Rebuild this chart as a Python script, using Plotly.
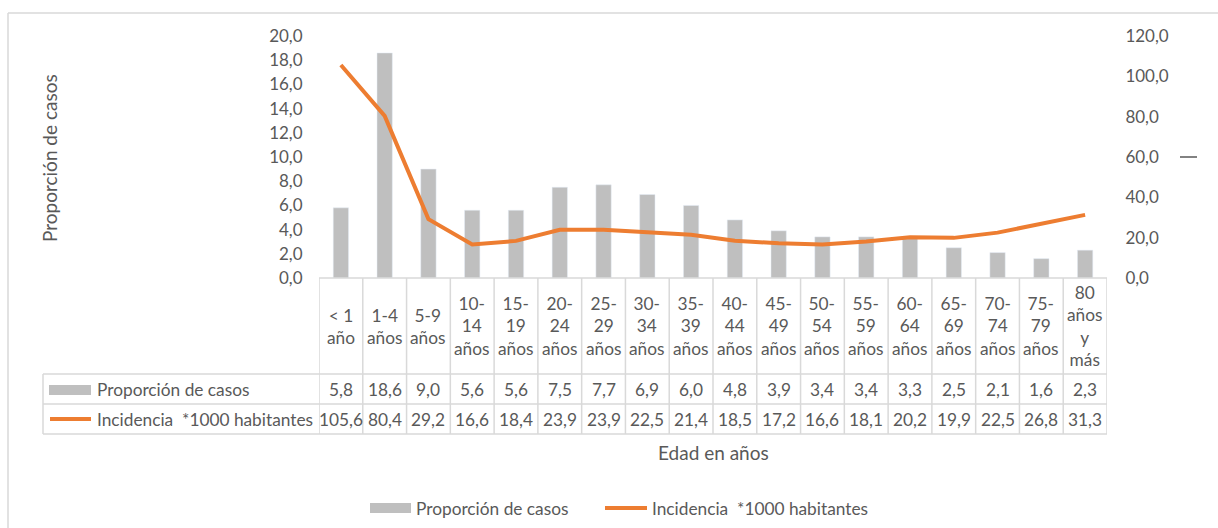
import plotly.graph_objects as go

# ---- data ----
categories = ["< 1 año", "1-4 años", "5-9 años", "10-14 años", "15-19 años", "20-24 años",
              "25-29 años", "30-34 años", "35-39 años", "40-44 años", "45-49 años", "50-54 años",
              "55-59 años", "60-64 años", "65-69 años", "70-74 años", "75-79 años", "80 años y más"]
header_labels = ["&lt; 1<br>año", "1-4<br>años", "5-9<br>años", "10-<br>14<br>años", "15-<br>19<br>años",
                 "20-<br>24<br>años", "25-<br>29<br>años", "30-<br>34<br>años", "35-<br>39<br>años",
                 "40-<br>44<br>años", "45-<br>49<br>años", "50-<br>54<br>años", "55-<br>59<br>años",
                 "60-<br>64<br>años", "65-<br>69<br>años", "70-<br>74<br>años", "75-<br>79<br>años",
                 "80<br>años<br>y<br>más"]
proporcion = [5.8, 18.6, 9.0, 5.6, 5.6, 7.5, 7.7, 6.9, 6.0, 4.8, 3.9, 3.4, 3.4, 3.3, 2.5, 2.1, 1.6, 2.3]
incidencia = [105.6, 80.4, 29.2, 16.6, 18.4, 23.9, 23.9, 22.5, 21.4, 18.5, 17.2, 16.6, 18.1, 20.2, 19.9, 22.5, 26.8, 31.3]
name_bar = "Proporción de casos"
name_line = "Incidencia\u00a0 *1000 habitantes"

# ---- layout constants (pixels) ----
W, H = 1218, 528
PL, PR, PT, PB = 319, 1107, 36, 278
ROW1, ROW2, ROW3 = 374, 404, 434
TBL_L = 43
GRAY = "#BFBFBF"
ORANGE = "#ED7D31"
TXT = "#595959"
GRID = "#D9D9D9"
FONT = "Lato"
FS_TBL = 17.3
FS_TICK = 17
FS_TITLE = 19

def X(px):
    return px / W

def Y(py):
    return 1 - py / H

fig = go.Figure()
fig.add_trace(go.Bar(x=categories, y=proporcion, name=name_bar, marker_color=GRAY,
                     width=0.35, yaxis="y", showlegend=False))
fig.add_trace(go.Scatter(x=categories, y=incidencia, name=name_line, mode="lines",
                         line=dict(color=ORANGE, width=4), yaxis="y2", showlegend=False))

shapes = []
ann = []
# outer frame
shapes.append(dict(type="line", xref="paper", yref="paper", x0=X(8), x1=1.0, y0=Y(13), y1=Y(13),
                   line=dict(color=GRID, width=1.5)))
shapes.append(dict(type="line", xref="paper", yref="paper", x0=X(8), x1=X(8), y0=Y(13), y1=0,
                   line=dict(color=GRID, width=1.5)))
# table horizontal lines
shapes.append(dict(type="line", xref="paper", yref="paper", x0=X(PL), x1=X(PR), y0=Y(PB), y1=Y(PB),
                   line=dict(color=GRID, width=1.5)))
for r in (ROW1, ROW2, ROW3):
    shapes.append(dict(type="line", xref="paper", yref="paper", x0=X(TBL_L), x1=X(PR), y0=Y(r), y1=Y(r),
                       line=dict(color=GRID, width=1.5)))
shapes.append(dict(type="line", xref="paper", yref="paper", x0=X(TBL_L), x1=X(TBL_L), y0=Y(ROW1), y1=Y(ROW3),
                   line=dict(color=GRID, width=1.5)))
# table vertical lines at category boundaries
for i in range(len(categories) + 1):
    shapes.append(dict(type="line", xref="x", yref="paper", x0=i - 0.5, x1=i - 0.5, y0=Y(PB), y1=Y(ROW3),
                       line=dict(color=GRID, width=1.5)))

# header and value cells
for i in range(len(categories)):
    ann.append(dict(xref="x", yref="paper", x=i, y=Y((PB + ROW1) / 2), text=header_labels[i],
                    showarrow=False, xanchor="center", yanchor="middle",
                    font=dict(family=FONT, size=FS_TBL, color=TXT)))
    ann.append(dict(xref="x", yref="paper", x=i, y=Y((ROW1 + ROW2) / 2),
                    text=f"{proporcion[i]:.1f}".replace(".", ","),
                    showarrow=False, xanchor="center", yanchor="middle",
                    font=dict(family=FONT, size=FS_TBL, color=TXT)))
    ann.append(dict(xref="x", yref="paper", x=i, y=Y((ROW2 + ROW3) / 2),
                    text=f"{incidencia[i]:.1f}".replace(".", ","),
                    showarrow=False, xanchor="center", yanchor="middle",
                    font=dict(family=FONT, size=FS_TBL, color=TXT)))

# row labels with keys
shapes.append(dict(type="rect", xref="paper", yref="paper", x0=X(49), x1=X(91), y0=Y(395), y1=Y(385),
                   fillcolor=GRAY, line=dict(width=0)))
shapes.append(dict(type="line", xref="paper", yref="paper", x0=X(50), x1=X(91), y0=Y(419), y1=Y(419),
                   line=dict(color=ORANGE, width=4)))
ann.append(dict(xref="paper", yref="paper", x=X(95), y=Y((ROW1 + ROW2) / 2), text=name_bar,
                showarrow=False, xanchor="left", yanchor="middle", font=dict(family=FONT, size=FS_TBL, color=TXT)))
ann.append(dict(xref="paper", yref="paper", x=X(95), y=Y((ROW2 + ROW3) / 2), text=name_line,
                showarrow=False, xanchor="left", yanchor="middle", font=dict(family=FONT, size=FS_TBL, color=TXT)))

# axis titles
ann.append(dict(xref="paper", yref="paper", x=X(49), y=Y(158), text="Proporción de casos", textangle=-90,
                showarrow=False, xanchor="center", yanchor="middle", font=dict(family=FONT, size=FS_TITLE, color=TXT)))
ann.append(dict(xref="paper", yref="paper", x=X(713), y=Y(452), text="Edad en años",
                showarrow=False, xanchor="center", yanchor="middle", font=dict(family=FONT, size=FS_TITLE, color=TXT)))
# stray dash near right axis
shapes.append(dict(type="line", xref="paper", yref="paper", x0=X(1180), x1=X(1197), y0=Y(157), y1=Y(157),
                   line=dict(color=TXT, width=1.5)))

# bottom legend
shapes.append(dict(type="rect", xref="paper", yref="paper", x0=X(370), x1=X(411), y0=Y(513), y1=Y(503),
                   fillcolor=GRAY, line=dict(width=0)))
shapes.append(dict(type="line", xref="paper", yref="paper", x0=X(605), x1=X(647), y0=Y(508), y1=Y(508),
                   line=dict(color=ORANGE, width=4)))
ann.append(dict(xref="paper", yref="paper", x=X(414), y=Y(508), text=name_bar,
                showarrow=False, xanchor="left", yanchor="middle", font=dict(family=FONT, size=FS_TBL, color=TXT)))
ann.append(dict(xref="paper", yref="paper", x=X(650), y=Y(508), text=name_line,
                showarrow=False, xanchor="left", yanchor="middle", font=dict(family=FONT, size=FS_TBL, color=TXT)))

fig.update_layout(
    width=W, height=H,
    margin=dict(l=0, r=0, t=0, b=0, pad=0, autoexpand=False),
    paper_bgcolor="white", plot_bgcolor="white",
    separators=",.",
    font=dict(family=FONT, size=FS_TICK, color=TXT),
    bargap=0.65,
    xaxis=dict(domain=[X(PL), X(PR)], type="category", showticklabels=False, showgrid=False,
               zeroline=False, showline=False, ticks="", range=[-0.5, len(categories) - 0.5],
               automargin=False),
    yaxis=dict(domain=[Y(PB), Y(PT)], range=[0, 20], dtick=2, tickformat=".1f", showgrid=False,
               zeroline=False, showline=False, ticks="outside", ticklen=12, tickcolor="rgba(0,0,0,0)",
               automargin=False, tickfont=dict(family=FONT, size=FS_TICK, color=TXT)),
    yaxis2=dict(overlaying="y", side="right", range=[0, 120], dtick=20, tickformat=".1f", showgrid=False,
                zeroline=False, showline=False, ticks="outside", ticklen=14, tickcolor="rgba(0,0,0,0)",
                automargin=False, tickfont=dict(family=FONT, size=FS_TICK, color=TXT)),
    shapes=shapes,
    annotations=ann,
    showlegend=False,
)

fig.write_html("out.html", config={"displayModeBar": False},
               post_script="document.body.style.margin='0';document.body.style.overflow='hidden';")
